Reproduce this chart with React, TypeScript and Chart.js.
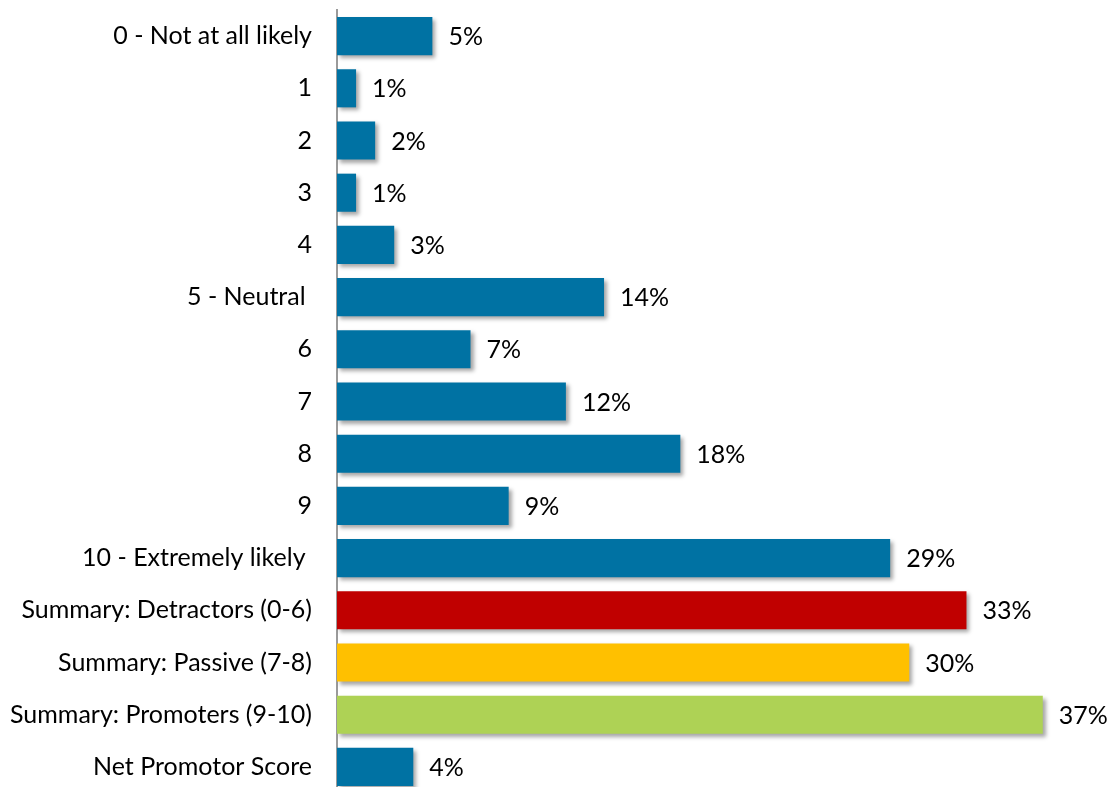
import React, { useEffect, useRef } from "react";
import { Chart, registerables } from "chart.js";

Chart.register(...registerables);

const categories = [
  "0 - Not at all likely",
  "1",
  "2",
  "3",
  "4",
  "5 - Neutral ",
  "6",
  "7",
  "8",
  "9",
  "10 - Extremely likely ",
  "Summary: Detractors (0-6)",
  "Summary: Passive (7-8)",
  "Summary: Promoters (9-10)",
  "Net Promotor Score",
];
const values = [5, 1, 2, 1, 3, 14, 7, 12, 18, 9, 29, 33, 30, 37, 4];
const BLUE = "#0072A3";
const barColors = [
  BLUE, BLUE, BLUE, BLUE, BLUE, BLUE, BLUE, BLUE, BLUE, BLUE, BLUE,
  "#C00000", "#FFC000", "#AED255", BLUE,
];

const FONT = "Lato, 'Open Sans', sans-serif";
const FONT_SIZE = 25;

const shadowPlugin = {
  id: "barShadow",
  beforeDatasetsDraw(chart: any) {
    const ctx = chart.ctx;
    ctx.save();
    ctx.shadowColor = "rgba(0,0,0,0.35)";
    ctx.shadowBlur = 4;
    ctx.shadowOffsetX = 3;
    ctx.shadowOffsetY = 3;
  },
  afterDatasetsDraw(chart: any) {
    chart.ctx.restore();
  },
};

const labelPlugin = {
  id: "valueLabels",
  afterDraw(chart: any) {
    const ctx = chart.ctx;
    const meta = chart.getDatasetMeta(0);
    ctx.save();
    ctx.fillStyle = "#000";
    ctx.font = `${FONT_SIZE}px ${FONT}`;
    ctx.textAlign = "left";
    ctx.textBaseline = "middle";
    meta.data.forEach((bar: any, i: number) => {
      ctx.fillText(values[i] + "%", bar.x + 16, bar.y + 1);
    });
    ctx.restore();
  },
};

export default function App() {
  const ref = useRef<HTMLCanvasElement>(null);
  useEffect(() => {
    document.body.style.margin = "0";
    const chart = new Chart(ref.current!, {
      type: "bar",
      data: {
        labels: categories,
        datasets: [
          {
            data: values,
            backgroundColor: barColors,
            categoryPercentage: 1,
            barPercentage: 0.73,
          },
        ],
      },
      options: {
        indexAxis: "y",
        animation: false,
        responsive: false,
        layout: { padding: { top: 10, right: 8, bottom: 0, left: 0 } },
        plugins: { legend: { display: false }, tooltip: { enabled: false } },
        scales: {
          x: { display: false, min: 0, max: 40 },
          y: {
            afterFit: (s: any) => {
              s.width = 337;
              s.paddingTop = 0;
              s.paddingBottom = 0;
            },
            grid: { display: false, drawTicks: false },
            border: { display: true, color: "#9a9a9a", width: 2 },
            ticks: {
              color: "#000",
              padding: 25,
              font: { family: FONT, size: FONT_SIZE },
            },
          },
        },
      },
      plugins: [shadowPlugin, labelPlugin],
    });
    return () => chart.destroy();
  }, []);
  return (
    <div style={{ position: "absolute", left: 0, top: 0 }}>
      <canvas ref={ref} width={1108} height={793} style={{ display: "block" }} />
    </div>
  );
}
